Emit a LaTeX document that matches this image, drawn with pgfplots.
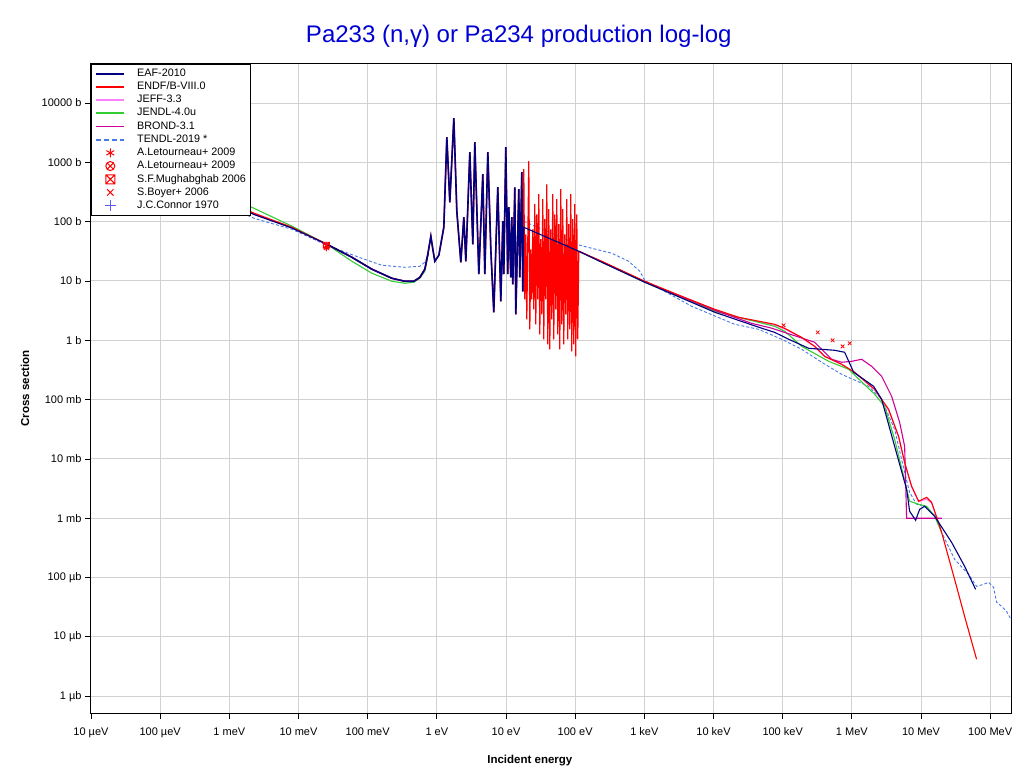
\documentclass[border=0pt]{standalone}
\usepackage{pgfplots}
\pgfplotsset{compat=1.18}
\usepackage{pgfplotstable}
\usepackage{fontspec}
\setmainfont{Liberation Sans}
\usetikzlibrary{plotmarks}

\definecolor{eaf}{RGB}{0,0,128}
\definecolor{endf}{RGB}{255,0,0}
\definecolor{jeff}{RGB}{255,128,255}
\definecolor{jendl}{RGB}{51,204,51}
\definecolor{brond}{RGB}{204,0,153}
\definecolor{tendl}{RGB}{70,120,230}
\definecolor{titleblue}{RGB}{0,0,210}
\definecolor{connor}{RGB}{90,90,255}

% square with a cross inside
\pgfdeclareplotmark{boxx}{%
  \pgfpathrectangle{\pgfpoint{-\pgfplotmarksize}{-\pgfplotmarksize}}{\pgfpoint{2\pgfplotmarksize}{2\pgfplotmarksize}}%
  \pgfpathmoveto{\pgfpoint{-\pgfplotmarksize}{-\pgfplotmarksize}}%
  \pgfpathlineto{\pgfpoint{\pgfplotmarksize}{\pgfplotmarksize}}%
  \pgfpathmoveto{\pgfpoint{-\pgfplotmarksize}{\pgfplotmarksize}}%
  \pgfpathlineto{\pgfpoint{\pgfplotmarksize}{-\pgfplotmarksize}}%
  \pgfusepathqstroke}

\pgfplotsset{markleg/.style={legend image code/.code={\draw[##1] plot coordinates {(14pt,0pt)};}}}

% resolved resonance region shared by ENDF/B-VIII.0 and EAF-2010 (eV, b)
\pgfplotstableread{
E sigma
0.0257 41.6
0.0591 25.1
0.115 15.8
0.224 11.1
0.345 9.88
0.465 9.88
0.568 11.5
0.671 15.8
0.741 28.2
0.819 56.7
0.875 34.3
0.936 21.5
1.069 27.1
1.262 80.5
1.395 2650
1.541 212
1.761 5540
1.945 150
2.223 20.7
2.456 119
2.626 21.5
3.0 1480
3.313 41.6
3.542 2183
4.046 13.0
4.62 630
4.94 13.0
5.46 1480
6.03 34.3
6.66 2.97
7.61 380
8.41 4.55
8.99 101.6
9.29 13.0
9.93 1798
10.6 13.0
10.98 175
11.73 11.5
12.13 119
12.54 8.80
13.41 380
13.86 2.74
15.31 352
15.83 11.5
16.92 681
17.49 6.70
}\resonances

\begin{document}
\begin{tikzpicture}
\useasboundingbox (-91pt,-61pt) rectangle (933pt,713pt);
\begin{axis}[
  scale only axis, width=920pt, height=649pt,
  xmode=log, ymode=log,
  xmin=1e-5, xmax=2e8, ymin=5.2e-7, ymax=4.55e4,
  xtick={1e-5,1e-4,1e-3,1e-2,1e-1,1,10,100,1e3,1e4,1e5,1e6,1e7,1e8},
  xticklabels={10 µeV,100 µeV,1 meV,10 meV,100 meV,1 eV,10 eV,100 eV,1 keV,10 keV,100 keV,1 MeV,10 MeV,100 MeV},
  ytick={1e-6,1e-5,1e-4,1e-3,1e-2,1e-1,1,10,100,1e3,1e4},
  yticklabels={1 µb,10 µb,100 µb,1 mb,10 mb,100 mb,1 b,10 b,100 b,1000 b,10000 b},
  xminorticks=false, yminorticks=false,
  tick pos=left, tick align=outside, major tick length=6pt,
  tick style={black, line width=0.8pt},
  tick label style={font=\fontsize{11}{12}\selectfont},
  xticklabel style={yshift=-5pt},
  grid=major, grid style={black!18, line width=1pt},
  axis line style={black, line width=1pt},
  title={Pa233 (n,γ) or Pa234 production log-log},
  title style={font=\fontsize{24}{28}\selectfont, text=titleblue, at={(axis description cs:0.465,1.034)}, anchor=center},
  xlabel={Incident energy},
  xlabel style={font=\bfseries\fontsize{11.5}{13}\selectfont, at={(axis description cs:0.477,-0.074)}, anchor=center},
  ylabel={Cross section},
  ylabel style={font=\bfseries\fontsize{11.5}{13}\selectfont, at={(axis description cs:-0.0717,0.5)}, anchor=center},
  legend image code/.code={\draw[#1] (0pt,0pt) -- (28pt,0pt);},
  legend cell align=left,
  legend style={at={(0,1)}, anchor=north west, draw=black, line width=0.8pt, fill=white,
    font=\fontsize{10.8}{12}\selectfont, inner xsep=4pt, inner ysep=3pt, row sep=0.7pt,
    nodes={inner sep=1pt, text height=8pt, text depth=2.5pt},
    /tikz/every odd column/.append style={column sep=11pt}},
  every axis plot/.append style={line width=1.1pt},
]
% legend
\addlegendimage{eaf, line width=1.8pt}\addlegendentry{EAF-2010}
\addlegendimage{endf, line width=1.8pt}\addlegendentry{ENDF/B-VIII.0}
\addlegendimage{jeff, line width=1.8pt}\addlegendentry{JEFF-3.3}
\addlegendimage{jendl, line width=1.8pt}\addlegendentry{JENDL-4.0u}
\addlegendimage{brond, line width=1.8pt}\addlegendentry{BROND-3.1}
\addlegendimage{tendl, line width=1.8pt, dash pattern=on 5pt off 3pt}\addlegendentry{TENDL-2019 *}
\addlegendimage{endf, line width=1pt, mark=asterisk, mark size=4.5, markleg}\addlegendentry{A.Letourneau+ 2009}
\addlegendimage{endf, line width=1pt, mark=otimes, mark size=4.5, markleg}\addlegendentry{A.Letourneau+ 2009}
\addlegendimage{endf, line width=1pt, mark=boxx, mark size=4.5, markleg}\addlegendentry{S.F.Mughabghab 2006}
\addlegendimage{endf, line width=1pt, mark=x, mark size=4.5, markleg}\addlegendentry{S.Boyer+ 2006}
\addlegendimage{connor, line width=1pt, mark=+, mark size=5.5, markleg}\addlegendentry{J.C.Connor 1970}

% TENDL-2019
\addplot[forget plot, tendl, line width=0.9pt, dash pattern=on 3pt off 2pt] coordinates {
(1.07e-5,2019) (1.48e-4,480) (2.27e-3,114) (8.03e-3,74.4) (0.0257,40.0) (0.0746,25.1)
(0.160,18.4) (0.345,17.0) (0.568,17.7) (0.671,20.7) (0.766,28.2)};
\addplot[forget plot, tendl, line width=0.9pt, dash pattern=on 3pt off 2pt] coordinates {
(18.08,101.6) (38.87,68.9) (116.5,40.0) (338,29.3) (595,21.5) (858,14.6) (1014,10.2)
(4842,3.74) (20250,1.86) (45010,1.53) (96740,1.04) (188200,0.705) (366100,0.426)
(712200,0.267) (1.749e6,0.1676) (2.696e6,0.1012) (4.155e6,0.0316) (5.797e6,0.00594)
(6.845e6,0.00273) (8.64e6,0.00172) (1.127e7,0.00159) (1.681e7,0.00104) (1.986e7,0.000578)
(3.059e7,0.000203) (4.874e7,0.000113) (6.36e7,7.11e-5) (8.03e7,7.68e-5) (9.48e7,8.30e-5)
(1.12e8,6.84e-5) (1.237e8,3.82e-5) (1.461e8,3.27e-5) (1.727e8,2.69e-5) (2.108e8,1.76e-5)};

% JEFF-3.3
\addplot[forget plot, jeff] coordinates {
(1.07e-5,2350) (1.48e-4,590) (2.27e-3,136) (8.03e-3,80) (0.0257,41.6) (0.0591,25.1)
(0.115,15.8) (0.224,11.1) (0.345,9.88) (0.465,9.88) (0.568,11.5) (0.671,15.8) (0.741,28.2)};
\addplot[forget plot, jeff] coordinates {
(112.7,31.7) (242.3,21.0) (1014,9.7) (10410,3.2) (23130,2.4) (76630,1.8) (106900,1.55)
(188200,1.1) (290100,0.78) (404600,0.53) (712200,0.39) (1.098e6,0.285) (2.136e6,0.147)
(3.403e6,0.066) (4.747e6,0.023) (5.797e6,0.0085) (7.316e6,0.0034) (9.235e6,0.0019)
(1.205e7,0.0021) (1.423e7,0.0018) (1.681e7,0.00104) (1.986e7,0.000578)};

% JENDL-4.0u
\addplot[forget plot, jendl] coordinates {
(1.07e-5,2978) (1.48e-4,736) (2.27e-3,168) (8.03e-3,84) (0.0257,41.6) (0.0591,21.5)
(0.115,13.5) (0.224,9.88) (0.345,9.15) (0.465,9.51) (0.568,11.1) (0.671,14.6) (0.741,27.1)};
\addplot[forget plot, jendl] coordinates {
(112.7,31.7) (242.3,20.7) (1014,9.51) (10410,3.08) (76630,1.72) (106900,1.42)
(188200,0.792) (462200,0.442) (898900,0.324) (2.136e6,0.1229) (2.979e6,0.0771)
(4.155e6,0.0214) (5.606e6,0.00509) (6.845e6,0.00193) (9.235e6,0.00172) (1.205e7,0.00159)
(1.573e7,0.00108) (1.986e7,0.000578)};

% BROND-3.1
\addplot[forget plot, brond] coordinates {
(1.07e-5,2300) (1.48e-4,580) (2.27e-3,134) (8.03e-3,79) (0.0257,41.6) (0.0591,25.1)
(0.115,15.8) (0.224,11.1) (0.345,9.88) (0.465,9.88) (0.568,11.5) (0.671,15.8) (0.741,28.2)};
\addplot[forget plot, brond] coordinates {
(112.7,31.7) (242.3,21.0) (1014,9.7) (10410,3.2) (35650,1.93) (69340,1.60) (290100,0.925)
(510600,0.478) (712200,0.426) (993400,0.442) (1.386e6,0.478) (1.933e6,0.364)
(2.696e6,0.247) (3.761e6,0.1137) (4.907e6,0.0414) (5.797e6,0.0163) (6.194e6,0.001)
(2.0e7,0.001)};

% ENDF/B-VIII.0
\addplot[forget plot, endf] coordinates {
(1.07e-5,2450) (1.48e-4,606) (2.27e-3,139) (8.03e-3,80.4) (0.0257,41.6)};
\addplot[forget plot, endf, line width=1.4pt] table[x=E, y=sigma] {\resonances};
\addplot[forget plot, endf, line width=1.2pt] coordinates {
(17.49,6.70) (18.08,765) (18.70,4.91) (19.33,61.3) (19.98,2.26) (21.36,1043) (22.08,1.53)
(22.83,34.2) (23.60,4.91) (24.40,74.4) (25.22,3.33) (26.08,197) (26.96,1.86) (27.87,133)
(28.81,4.91) (29.79,290) (30.80,1.26) (31.84,50.5) (32.91,2.74) (34.02,239) (35.18,1.04)
(36.36,110) (37.60,4.91) (38.87,427) (40.18,0.856) (41.54,162) (42.95,0.705) (44.40,74.4)
(45.90,2.26) (47.45,290) (49.06,1.04) (50.72,133) (52.43,3.33) (54.21,239) (56.04,1.26)
(57.94,90.4) (59.90,0.705) (61.92,352) (64.02,1.86) (66.19,162) (68.42,0.856) (70.74,61.3)
(73.13,2.74) (75.60,239) (78.16,1.04) (80.80,90.4) (83.54,1.53) (86.36,290) (89.29,0.652)
(92.31,110) (95.44,0.856) (98.67,197) (102.0,0.537) (105.5,133) (109.0,1.04) (112.7,31.7)};
\addplot[forget plot, endf] coordinates {
(112.7,31.7) (242.3,21.5) (1014,9.88) (3471,5.52) (10410,3.33) (23130,2.44) (76630,1.86)
(106900,1.59) (188200,1.12) (290100,0.792) (404600,0.537) (712200,0.394) (1.098e6,0.289)
(2.136e6,0.149) (3.403e6,0.0686) (4.747e6,0.0240) (5.797e6,0.00877) (7.316e6,0.00345)
(9.235e6,0.00193) (1.205e7,0.00225) (1.423e7,0.00185) (1.681e7,0.00104) (1.986e7,0.000578)
(3.059e7,9.33e-5) (4.267e7,2.22e-5) (6.36e7,4.18e-6)};

% EAF-2010
\addplot[forget plot, eaf] coordinates {
(1.07e-5,2250) (1.48e-4,570) (2.27e-3,132) (8.03e-3,78) (0.0257,41.6)};
\addplot[forget plot, eaf, line width=1.6pt] table[x=E, y=sigma] {\resonances};
\addplot[forget plot, eaf] coordinates {
(17.49,6.70) (18.08,80.4) (112.7,31.7) (242.3,20.7) (1014,9.51) (10410,2.97) (45010,1.66)
(76630,1.36) (122100,1.04) (237600,0.733) (564200,0.678) (787000,0.628) (1.062e6,0.289)
(2.066e6,0.1676) (2.696e6,0.1012) (4.155e6,0.0163) (6.194e6,0.00307) (6.845e6,0.00131)
(8.356e6,0.000922) (9.546e6,0.00141) (1.127e7,0.00159) (1.573e7,0.00108) (2.769e7,0.000392)
(4.267e7,0.000155) (6.153e7,6.32e-5)};

% measurements
\addplot[forget plot, only marks, connor, line width=0.8pt, mark=+, mark size=3] coordinates {(0.0253,41.0)};
\addplot[forget plot, only marks, endf, line width=0.8pt, mark=asterisk, mark size=3] coordinates {(0.0253,35.5)};
\addplot[forget plot, only marks, endf, line width=0.8pt, mark=otimes, mark size=3] coordinates {(0.0253,39.0)};
\addplot[forget plot, only marks, endf, line width=0.8pt, mark=boxx, mark size=3] coordinates {(0.0253,40.0)};
\addplot[forget plot, only marks, endf, line width=0.8pt, mark=x, mark size=2.5] coordinates {
(1.03e5,1.79) (3.21e5,1.36) (5.26e5,1.00) (7.36e5,0.79) (9.30e5,0.89)};
\end{axis}
\end{tikzpicture}
\end{document}
